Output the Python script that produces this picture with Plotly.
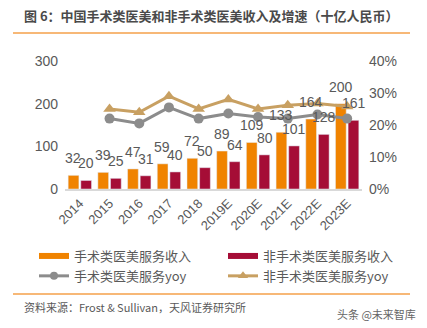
import plotly.graph_objects as go

categories = ["2014", "2015", "2016", "2017", "2018", "2019E", "2020E", "2021E", "2022E", "2023E"]
surgical = [32, 39, 47, 59, 72, 89, 109, 133, 164, 200]
nonsurgical = [20, 25, 31, 40, 50, 64, 80, 101, 128, 161]
yoy_categories = categories[1:]
surgical_yoy = [22.0, 20.5, 25.5, 22.0, 23.6, 22.5, 22.0, 23.3, 22.0]
nonsurgical_yoy = [25.0, 24.0, 29.0, 25.0, 28.0, 25.0, 26.2, 26.7, 25.8]
left_ticks = [0, 100, 200, 300]
right_ticks = [0, 10, 20, 30, 40]
right_tick_labels = ["0%", "10%", "20%", "30%", "40%"]

ORANGE = "#F08300"
CRIMSON = "#A50D36"
GRAY = "#8C8C8C"
TAN = "#C8A062"
TEXT = "#595959"
FONT = "Liberation Sans, Arial, Noto Sans CJK SC, sans-serif"
CJK = "Noto Sans CJK SC, Liberation Sans, sans-serif"

names = ["手术类医美服务收入", "非手术类医美服务收入", "手术类医美服务yoy", "非手术类医美服务yoy"]

fig = go.Figure()
fig.add_bar(x=categories, y=surgical, marker_color=ORANGE, showlegend=False, name=names[0])
fig.add_bar(x=categories, y=nonsurgical, marker_color=CRIMSON, showlegend=False, name=names[1])
fig.add_scatter(x=yoy_categories, y=surgical_yoy, yaxis="y2", mode="lines+markers",
                line=dict(color=GRAY, width=3), marker=dict(symbol="circle", size=10, color=GRAY),
                showlegend=False, name=names[2])
fig.add_scatter(x=yoy_categories, y=nonsurgical_yoy, yaxis="y2", mode="lines+markers",
                line=dict(color=TAN, width=3), marker=dict(symbol="triangle-up", size=11, color=TAN),
                showlegend=False, name=names[3])

# legend entries (two vertical legends = two columns)
fig.add_scatter(x=[categories[0]], y=[None], mode="lines", line=dict(color=ORANGE, width=6),
                name=names[0], legend="legend")
fig.add_scatter(x=[categories[0]], y=[None], mode="lines+markers", line=dict(color=GRAY, width=3),
                marker=dict(symbol="circle", size=8, color=GRAY), name=names[2], legend="legend")
fig.add_scatter(x=[categories[0]], y=[None], mode="lines", line=dict(color=CRIMSON, width=6),
                name=names[1], legend="legend2")
fig.add_scatter(x=[categories[0]], y=[None], mode="lines+markers", line=dict(color=TAN, width=3),
                marker=dict(symbol="triangle-up", size=9, color=TAN), name=names[3], legend="legend2")

annotations = []
for i, v in enumerate(surgical):
    annotations.append(dict(x=i, y=v, text=str(v), showarrow=False, xshift=-6.5, yshift=7,
                            yanchor="bottom", font=dict(size=14, color=TEXT, family=FONT)))
for i, v in enumerate(nonsurgical):
    annotations.append(dict(x=i, y=v, text=str(v), showarrow=False, xshift=6.5, yshift=7,
                            yanchor="bottom", font=dict(size=14, color=TEXT, family=FONT)))

# plot area: x 65..362, y 61..189
def px(xp):
    return (xp - 65) / 297.0
def py(yp):
    return (189 - yp) / 128.0

annotations.append(dict(xref="paper", yref="paper", x=px(22), y=py(15), xanchor="left", yanchor="middle",
                        text="<b>图 6：中国手术类医美和非手术类医美收入及增速（十亿人民币）</b>", showarrow=False,
                        font=dict(size=13, color="#4a4a4a", family=CJK)))
annotations.append(dict(xref="paper", yref="paper", x=px(22), y=py(307), xanchor="left", yanchor="middle",
                        text="资料来源：Frost &amp; Sullivan，天风证券研究所", showarrow=False,
                        font=dict(size=11, color=TEXT, family=CJK)))
annotations.append(dict(xref="paper", yref="paper", x=px(418), y=py(314), xanchor="right", yanchor="middle",
                        text="头条 @未来智库", showarrow=False,
                        font=dict(size=11, color="#666666", family=CJK)))

shapes = [
    dict(type="line", xref="paper", yref="paper", x0=px(13), x1=px(410), y0=py(33), y1=py(33),
         line=dict(color="#F5A04A", width=1.5)),
    dict(type="line", xref="paper", yref="paper", x0=px(13), x1=px(410), y0=py(294), y1=py(294),
         line=dict(color="#F5A04A", width=1.5)),
]

legend_common = dict(orientation="v", xanchor="left", yanchor="top", tracegroupgap=0,
                     font=dict(size=13, color=TEXT, family=CJK), bgcolor="rgba(0,0,0,0)",
                     itemwidth=30)

fig.update_layout(
    width=427, height=328,
    margin=dict(l=65, r=65, t=61, b=139),
    paper_bgcolor="white", plot_bgcolor="white",
    barmode="group", bargap=0.15, bargroupgap=0.15,
    font=dict(family=FONT, color=TEXT, size=14),
    xaxis=dict(type="category", categoryorder="array", categoryarray=categories,
               range=[-0.5, len(categories) - 0.5], tickangle=-45, showgrid=False, showline=True,
               linecolor="#D9D9D9", linewidth=1.5, ticks="", tickfont=dict(size=13, color=TEXT)),
    yaxis=dict(range=[0, 300], tickvals=left_ticks, showgrid=False, zeroline=False, showline=False,
               ticks="", ticklabelstandoff=6, tickfont=dict(size=14, color=TEXT)),
    yaxis2=dict(range=[0, 40], tickvals=right_ticks, ticktext=right_tick_labels, overlaying="y", side="right",
                showgrid=False, zeroline=False, showline=False, ticks="", ticklabelstandoff=6,
                tickfont=dict(size=14, color=TEXT)),
    legend=dict(x=px(34), y=py(241), **legend_common),
    legend2=dict(x=px(223), y=py(241), **legend_common),
    annotations=annotations,
    shapes=shapes,
)

fig.write_html("out.html")
